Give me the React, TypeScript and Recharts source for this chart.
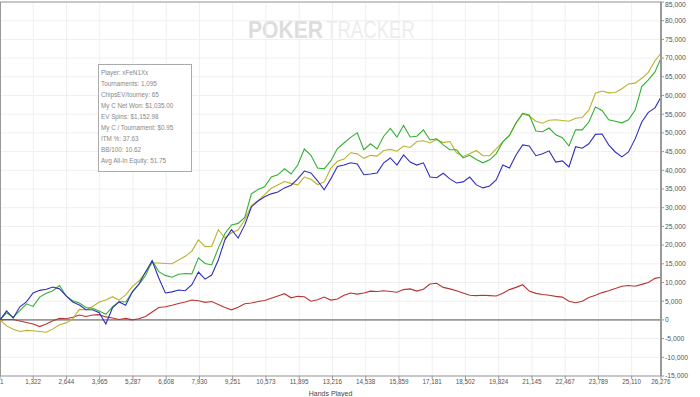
import { LineChart, Line, XAxis, YAxis, CartesianGrid, ReferenceLine } from "recharts"

document.body.style.margin = "0"

// hands played at each sample point
const hands = [
  1, 263, 526, 789, 1052, 1315, 1578, 1841, 2104, 2367, 2630, 2893, 3156, 3419, 3682, 3945, 4208,
  4471, 4734, 4997, 5260, 5523, 5786, 6049, 6312, 6575, 6838, 7101, 7364, 7627, 7890, 8153, 8416,
  8679, 8942, 9205, 9468, 9731, 9994, 10257, 10520, 10783, 11046, 11309, 11572, 11835, 12098, 12361,
  12624, 12887, 13150, 13413, 13676, 13939, 14202, 14465, 14728, 14991, 15254, 15517, 15780, 16043,
  16306, 16569, 16832, 17095, 17358, 17621, 17884, 18147, 18410, 18673, 18936, 19199, 19462, 19725,
  19988, 20251, 20514, 20777, 21040, 21303, 21566, 21829, 22092, 22355, 22618, 22881, 23144, 23407,
  23670, 23933, 24196, 24459, 24722, 24985, 25248, 25511, 25774, 26037, 26276,
]

const yellowLine = [
  0, -1600, -2500, -3100, -2800, -2900, -3100, -3300, -2400, -1300, -800, 300, 2800, 2700, 3600, 4800,
  5300, 6200, 5300, 6700, 8900, 10400, 12700, 15200, 15200, 15100, 15000, 16000, 17000, 18400, 21400,
  19600, 19700, 24100, 21900, 23300, 24100, 26700, 30600, 31900, 33500, 35200, 36100, 37000, 36500,
  36100, 38200, 37600, 36200, 36900, 40500, 42400, 43000, 44700, 44400, 43200, 44000, 43800, 45300,
  45600, 45100, 46500, 46100, 47700, 47900, 47300, 48200, 47400, 47700, 44700, 43700, 44400, 45300,
  43900, 43900, 45700, 47600, 49300, 52600, 55100, 54500, 53100, 52600, 53400, 53500, 53300, 53100,
  53900, 54100, 56100, 60600, 61200, 60700, 60800, 61800, 63100, 63300, 64600, 66200, 69300, 71300,
]

const greenLine = [
  0, 1900, 700, 2500, 4300, 3600, 6100, 7100, 7800, 9200, 6400, 5100, 4500, 3300, 3100, 2400, 1500,
  3500, 4900, 4800, 7400, 9500, 11800, 15800, 12900, 11900, 11400, 12200, 12400, 12300, 16600, 15100,
  14700, 19200, 23100, 25400, 25800, 27400, 33700, 34900, 35600, 38200, 38800, 40400, 39000, 41400,
  45700, 44000, 40600, 40400, 42500, 45800, 47300, 48800, 50000, 45500, 47100, 45700, 49100, 51200,
  48900, 52000, 48900, 49100, 50800, 48100, 48400, 46800, 45500, 45500, 43300, 44000, 42900, 42000,
  42800, 44400, 47600, 49300, 52700, 55200, 54800, 50500, 50300, 51300, 49500, 48700, 46500, 50800,
  50800, 52900, 56900, 56000, 53500, 53100, 52700, 53500, 56100, 62400, 64200, 66300, 70000,
]

const blueLine = [
  0, 2400, 500, 3500, 4800, 7200, 7900, 8200, 8800, 8300, 6400, 4800, 4000, 2700, 2700, 1900, -1100,
  3200, 4800, 3900, 7500, 9600, 12800, 15800, 11200, 7200, 7500, 8000, 7800, 9400, 12800, 10900, 12000,
  16000, 21400, 24100, 21900, 25400, 30200, 31800, 32900, 33700, 34200, 35300, 36000, 37700, 39800,
  39300, 37200, 34800, 37700, 41000, 41400, 42000, 41700, 38800, 39000, 39300, 42000, 43300, 41400,
  44100, 42200, 41400, 42000, 38200, 38000, 39200, 37700, 36600, 36900, 38200, 36100, 35300, 35800,
  37400, 41400, 40600, 44100, 46800, 46500, 43900, 44400, 45200, 42200, 42500, 40900, 46300, 45900,
  47100, 49600, 49700, 46800, 44900, 43600, 44900, 48400, 52900, 55500, 56700, 59600,
]

const redLine = [
  0, 100, 100, -300, -700, -1100, -1800, -1100, -200, 400, 300, 700, 1300, 900, 1300, 1400, 800, 500,
  100, 400, 0, 300, 900, 2100, 3300, 3500, 3900, 4400, 4800, 5300, 5100, 4700, 4900, 4100, 3300, 2700,
  3400, 4300, 4500, 4900, 5200, 5800, 6400, 7000, 5900, 6300, 6200, 5000, 5400, 6100, 5300, 5600, 6600,
  7200, 6900, 7200, 7700, 7600, 7800, 7600, 7400, 8100, 8300, 7700, 8200, 9600, 9800, 8700, 8300, 7800,
  7200, 6600, 6500, 6600, 6500, 6400, 7100, 8100, 8700, 9400, 7700, 7100, 6800, 6600, 6300, 6100, 5000,
  4600, 5000, 6000, 6600, 7300, 7800, 8400, 9000, 9200, 9000, 9500, 10000, 11100, 11400,
]

const xTicks = [
  1, 1322, 2644, 3965, 5287, 6608, 7930, 9251, 10573, 11895, 13216, 14538, 15859, 17181, 18502, 19824,
  21145, 22467, 23789, 25110, 26276,
]

const yTicks = [
  -15000, -10000, -5000, 0, 5000, 10000, 15000, 20000, 25000, 30000, 35000, 40000, 45000, 50000, 55000,
  60000, 65000, 70000, 75000, 80000, 85000,
]

const statLines = [
  "Player: xFeN1Xx",
  "Tournaments: 1,095",
  "ChipsEV/tourney: 65",
  "My C Net Won: $1,035.00",
  "EV Spins: $1,152.98",
  "My C / Tournament: $0.95",
  "ITM %: 37.63",
  "BB/100: 10.62",
  "Avg All-In Equity: 51.75",
]

const data = hands.map((h, i) => ({
  hands: h,
  yellow: yellowLine[i],
  green: greenLine[i],
  blue: blueLine[i],
  red: redLine[i],
}))

const fmt = (v: number) => v.toLocaleString("en-US")

// keep the edge labels inside the picture
const XTick = (props: any) => {
  const { x, y, payload } = props
  const first = payload.value === xTicks[0]
  return (
    <text x={first ? 0 : x} y={y} dy="0.71em" textAnchor={first ? "start" : "middle"} fontSize={6.3} fill="#555">
      {fmt(payload.value)}
    </text>
  )
}

const YTick = (props: any) => {
  const { x, y, payload } = props
  const top = payload.value === yTicks[yTicks.length - 1]
  return (
    <text x={x} y={top ? y + 3 : y} dy="0.35em" textAnchor="start" fontSize={6.8} fill="#555">
      {fmt(payload.value)}
    </text>
  )
}

export default function App() {
  return (
    <div
      style={{
        position: "relative",
        width: 700,
        height: 397,
        background: "#fff",
        fontFamily: "'Liberation Sans', Arial, sans-serif",
        overflow: "hidden",
      }}
    >
      <svg width={700} height={397} style={{ position: "absolute", left: 0, top: 0 }}>
        <text x={248} y={38} fontSize={23} fontWeight="bold" fill="#dddddd" textLength={75} lengthAdjust="spacingAndGlyphs">
          POKER
        </text>
        <text x={326} y={38} fontSize={23} fill="#ededed" textLength={89} lengthAdjust="spacingAndGlyphs">
          TRACKER
        </text>
      </svg>
      <div style={{ position: "absolute", left: 0, top: 0 }}>
        <LineChart width={700} height={397} data={data} margin={{ top: 2, right: 0, bottom: 0, left: 0 }}>
          <CartesianGrid stroke="#efefef" />
          <XAxis
            dataKey="hands"
            type="number"
            domain={[1, 26276]}
            ticks={xTicks}
            interval={0}
            height={21}
            tick={<XTick />}
            tickSize={3}
            tickMargin={1}
            stroke="#999"
            label={{ value: "Hands Played", position: "insideBottom", offset: 1, fontSize: 7, fill: "#444" }}
          />
          <YAxis
            orientation="right"
            type="number"
            domain={[-15000, 85000]}
            ticks={yTicks}
            interval={0}
            width={39}
            tick={<YTick />}
            tickSize={3}
            tickMargin={1}
            axisLine={{ stroke: "#999", strokeWidth: 2 }}
            tickLine={{ stroke: "#999" }}
          />
          <ReferenceLine y={85000} stroke="#999" />
          <ReferenceLine x={1} stroke="#999" strokeWidth={2} />
          <ReferenceLine y={0} stroke="#999" strokeWidth={1.8} />
          <Line type="linear" dataKey="red" stroke="#bb3333" strokeWidth={1.1} dot={false} isAnimationActive={false} />
          <Line type="linear" dataKey="yellow" stroke="#bbb22b" strokeWidth={1.1} dot={false} isAnimationActive={false} />
          <Line type="linear" dataKey="green" stroke="#33b033" strokeWidth={1.1} dot={false} isAnimationActive={false} />
          <Line type="linear" dataKey="blue" stroke="#3030bb" strokeWidth={1.1} dot={false} isAnimationActive={false} />
        </LineChart>
      </div>
      <div
        style={{
          position: "absolute",
          left: 98,
          top: 64,
          width: 90,
          height: 104,
          border: "1px solid #aaa",
          background: "#fff",
          padding: "2px 0 0 2px",
          boxSizing: "content-box",
          fontSize: 6.3,
          lineHeight: "11.05px",
          color: "#888",
        }}
      >
        {statLines.map((s) => (
          <div key={s} style={{ whiteSpace: "nowrap" }}>
            {s}
          </div>
        ))}
      </div>
    </div>
  )
}
